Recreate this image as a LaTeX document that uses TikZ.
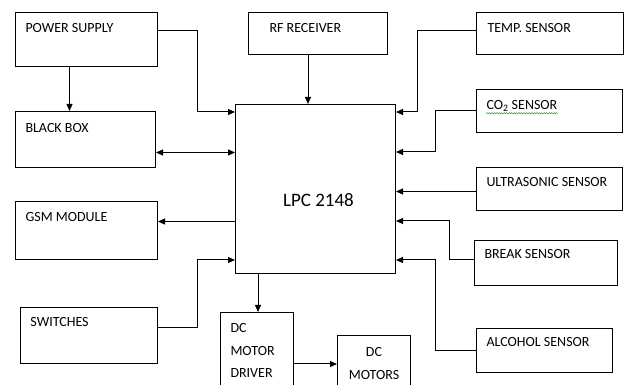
\documentclass[tikz,border=0pt]{standalone}
\usepackage{fontspec}
\setmainfont{Carlito}
\usetikzlibrary{arrows.meta,positioning,decorations.pathmorphing}

\begin{document}
\begin{tikzpicture}[x=1pt, y=-1pt, >={Triangle[length=7pt,width=6pt]}, line width=1pt]

\tikzstyle{block} = [rectangle, draw, anchor=north west, inner sep=0pt];
\tikzstyle{lbl} = [anchor=north west, inner sep=0pt, align=left, font=\fontsize{14}{22.5}\selectfont];

\clip (0,0) rectangle (625,385);

% Left column
\node (psu) [block, minimum width=142pt, minimum height=54pt] at (15,12) {};
\node (bbox) [block, minimum width=140pt, minimum height=56pt] at (15,111) {};
\node (gsm) [block, minimum width=142pt, minimum height=58pt] at (15,201) {};
\node (sw) [block, minimum width=137pt, minimum height=56pt] at (20,307) {};

% Middle
\node (rf) [block, minimum width=139pt, minimum height=42pt] at (248,12) {};
\node (lpc) [block, minimum width=160pt, minimum height=169pt] at (235,104) {};
\node (drv) [block, minimum width=73pt, minimum height=80pt] at (220,312) {};
\node (mot) [block, minimum width=73pt, minimum height=57pt] at (337,335) {};

% Right column - sensors
\node (temp) [block, minimum width=147pt, minimum height=42pt] at (476,12) {};
\node (co2) [block, minimum width=146pt, minimum height=43pt] at (476,89) {};
\node (ultra) [block, minimum width=146pt, minimum height=43pt] at (476,167) {};
\node (brk) [block, minimum width=143pt, minimum height=45pt] at (474,240) {};
\node (alc) [block, minimum width=136pt, minimum height=44pt] at (476,328) {};

% Texts
\node (psutxt) [lbl] at ([xshift=10pt,yshift=-11pt]psu.north west) {POWER SUPPLY};
\node (bboxtxt) [lbl] at ([xshift=10pt,yshift=-12pt]bbox.north west) {BLACK BOX};
\node (gsmtxt) [lbl] at ([xshift=10pt,yshift=-11pt]gsm.north west) {GSM MODULE};
\node (swtxt) [lbl] at ([xshift=10pt,yshift=-10pt]sw.north west) {SWITCHES};
\node (rftxt) [lbl] at ([xshift=21pt,yshift=-11pt]rf.north west) {RF RECEIVER};
\node (lpctxt) [font=\fontsize{19}{23}\selectfont] at ([xshift=3pt,yshift=-11.5pt]lpc.center) {LPC 2148};
\node (drvtxt) [lbl] at ([xshift=10pt,yshift=-11pt]drv.north west) {DC\\MOTOR\\DRIVER};
\node (mottxt) [lbl, anchor=north, align=center] at ([yshift=-12pt]mot.north) {DC\\MOTORS};
\node (temptxt) [lbl] at ([xshift=11pt,yshift=-11pt]temp.north west) {TEMP. SENSOR};
\node (co2txt) [lbl] at ([xshift=10pt,yshift=-11pt]co2.north west) {CO\textsubscript{2} SENSOR};
\node (ultratxt) [lbl] at ([xshift=10pt,yshift=-10pt]ultra.north west) {ULTRASONIC SENSOR};
\node (brktxt) [lbl] at ([xshift=10pt,yshift=-9pt]brk.north west) {BREAK SENSOR};
\node (alctxt) [lbl] at ([xshift=10pt,yshift=-9pt]alc.north west) {ALCOHOL SENSOR};
\draw[green!55!black, line width=0.4pt, decorate, decoration={snake, amplitude=0.7pt, segment length=2.5pt}]
  ([yshift=-1pt]co2txt.south west) -- ([yshift=-1pt]co2txt.south east);

% Connections
\draw[->] ([xshift=-17pt]psu.south) -- ([xshift=-16pt]bbox.north);
\draw[->] ([yshift=9pt]psu.east) -- ++(39,0) |- ([yshift=-8pt]lpc.north west);
\draw[->] ([xshift=-10pt]rf.south) -- ([xshift=-10pt]rf.south |- lpc.north);
\draw[<->] ([yshift=-13pt]bbox.east) -- ([yshift=-13pt]bbox.east -| lpc.west);
\draw[->] ([yshift=9pt]lpc.west |- gsm.east) -- ([yshift=9pt]gsm.east);
\draw[->] ([yshift=8pt]sw.east) -- ++(39,0) |- ([yshift=14pt]lpc.south west);
\draw[->] ([xshift=23pt]lpc.south west) -- ([xshift=23pt]lpc.south west |- drv.north);
\draw[->] (drv.east |- mot.west) -- (mot.west);
\draw[->] ([yshift=3pt]temp.west) -- ++(-59,0) |- ([yshift=-8pt]lpc.north east);
\draw[->] (co2.west) -- ++(-41,0) |- ([yshift=-48pt]lpc.north east);
\draw[->] ([yshift=-2.5pt]ultra.west) -- ([yshift=-2.5pt]ultra.west -| lpc.east);
\draw[->] ([yshift=3.5pt]brk.west) -- ++(-25,0) |- ([yshift=-117pt]lpc.north east);
\draw[->] (alc.west) -- ++(-41,0) |- ([yshift=14pt]lpc.south east);

\end{tikzpicture}
\end{document}
